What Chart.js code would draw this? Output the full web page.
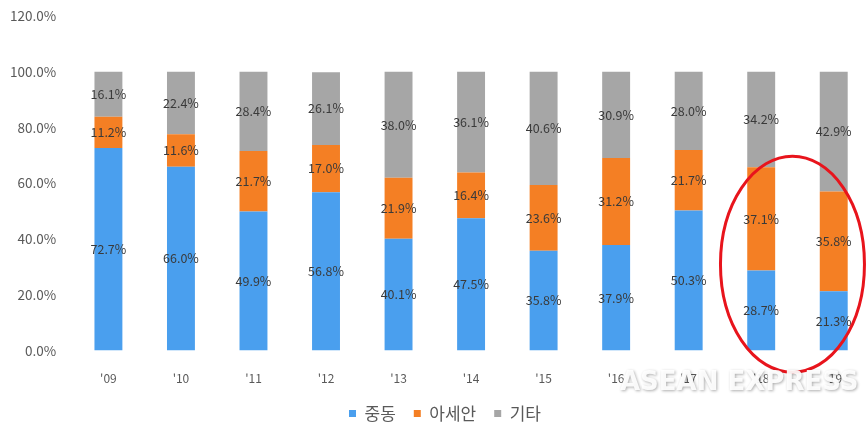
<!DOCTYPE html>
<html><head><meta charset="utf-8">
<script src="https://cdn.jsdelivr.net/npm/chart.js@4.4.1/dist/chart.umd.min.js"></script>
<style>html,body{margin:0;padding:0;background:#fff;overflow:hidden;}
#wrap{width:866px;height:424px;position:relative;overflow:hidden;}
#c{position:absolute;left:-12px;top:0px;}</style>
</head><body><div id="wrap"><canvas id="c" width="900" height="446"></canvas></div>
<script>
const categories = ["'09","'10","'11","'12","'13","'14","'15","'16","'17","'18","'19"];
const middleEast = [72.7,66.0,49.9,56.8,40.1,47.5,35.8,37.9,50.3,28.7,21.3];
const asean      = [11.2,11.6,21.7,17.0,21.9,16.4,23.6,31.2,21.7,37.1,35.8];
const others     = [16.1,22.4,28.4,26.1,38.0,36.1,40.6,30.9,28.0,34.2,42.9];
const seriesNames = ["중동","아세안","기타"];
const yTicks = [0,20,40,60,80,100,120];

const FONT = "'Noto Sans CJK KR', 'Noto Sans', sans-serif";

const labelPlugin = {
  id:'segLabels',
  afterDatasetsDraw(chart){
    const ctx = chart.ctx;
    ctx.save();
    ctx.font = "12.5px " + FONT;
    ctx.fillStyle = "#3a3a3a";
    ctx.textAlign = "center";
    ctx.textBaseline = "middle";
    chart.data.datasets.forEach((ds,i)=>{
      const meta = chart.getDatasetMeta(i);
      meta.data.forEach((el,j)=>{
        const y = (el.y + el.base)/2;
        ctx.fillText(ds.data[j].toFixed(1)+'%', el.x, y);
      });
    });
    ctx.restore();
  }
};

const legendShift = {
  id:'legendShift',
  afterLayout(chart){
    const lg = chart.legend;
    if (lg) { lg.left += 9; lg.right += 9; lg.top -= 12; lg.bottom -= 12; }
  }
};

const overlayPlugin = {
  id:'overlay',
  afterDraw(chart){
    const ctx = chart.ctx;
    const xs = chart.scales.x, ys = chart.scales.y;
    const cx = (xs.getPixelForValue(9) + xs.getPixelForValue(10))/2 - 5;
    const cy = ys.getPixelForValue(31);
    ctx.save();
    ctx.strokeStyle = "#e8141c";
    ctx.lineWidth = 3;
    ctx.beginPath();
    ctx.ellipse(cx, cy, 72, 108, 0, 0, Math.PI*2);
    ctx.stroke();
    // watermark
    ctx.font = "bold 26px 'DejaVu Sans', sans-serif";
    ctx.textAlign = "left";
    ctx.textBaseline = "middle";
    ctx.shadowColor = "rgba(0,0,0,0.35)";
    ctx.shadowBlur = 3;
    ctx.shadowOffsetX = 1; ctx.shadowOffsetY = 1;
    ctx.fillStyle = "rgba(255,255,255,0.92)";
    ctx.fillText("ASEAN EXPRESS", 632, 383);
    ctx.restore();
  }
};

new Chart(document.getElementById('c'), {
  type:'bar',
  data:{
    labels: categories,
    datasets:[
      {label:seriesNames[0], data:middleEast, backgroundColor:'#4a9fee'},
      {label:seriesNames[1], data:asean, backgroundColor:'#f47f24'},
      {label:seriesNames[2], data:others, backgroundColor:'#a6a6a6'}
    ]
  },
  options:{
    responsive:false,
    animation:false,
    layout:{padding:{left:14,right:18,top:2,bottom:2}},
    plugins:{
      legend:{position:'bottom', labels:{boxWidth:7, boxHeight:7, color:'#595959', font:{size:17, family:FONT}, padding:18}},
      tooltip:{enabled:false}
    },
    scales:{
      x:{stacked:true, grid:{display:false}, border:{display:false},
         ticks:{color:'#595959', font:{size:12, family:FONT}, padding:13}},
      y:{stacked:true, min:0, max:120, grid:{display:false}, border:{display:false},
         afterBuildTicks(axis){ axis.ticks = yTicks.map(v=>({value:v})); },
         ticks:{color:'#595959', font:{size:13.5, family:FONT}, padding:8,
                callback:v=>v.toFixed(1)+'%'}}
    },
    datasets:{bar:{barPercentage:0.385, categoryPercentage:1}}
  },
  plugins:[labelPlugin, legendShift, overlayPlugin]
});
</script></body></html>
